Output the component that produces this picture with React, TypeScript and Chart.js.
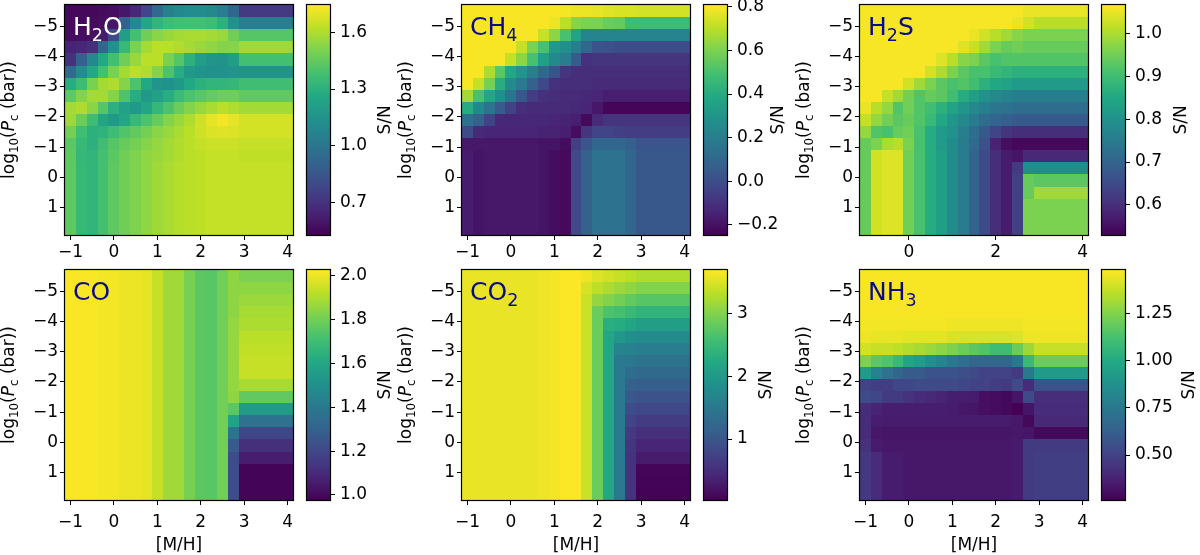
import React, { useEffect, useRef } from 'react';
import { Chart, registerables } from 'chart.js';
Chart.register(...registerables);

const FONT = "'DejaVu Sans', sans-serif";
const PAGE_W = 1200;
const PAGE_H = 555;

// ---------- data ----------
const MH = [-1, -0.75, -0.5, -0.25, 0, 0.25, 0.5, 0.75, 1, 1.25, 1.5, 1.75, 2, 2.25, 2.5, 2.75, 3, 3.25, 3.5, 3.75, 4];
const LOG_PC = [-5.5, -5.1, -4.7, -4.3, -3.9, -3.5, -3.1, -2.7, -2.3, -1.9, -1.5, -1.1, -0.7, -0.3, 0.1, 0.5, 0.9, 1.3, 1.7];
const X_TICKS = [-1, 0, 1, 2, 3, 4];
const X_TICKS_H2S = [0, 2, 4];
const Y_TICKS = [-5, -4, -3, -2, -1, 0, 1];

const H2O_SN = [
  [0.55,0.55,0.55,0.56,0.57,0.60,0.66,0.78,0.95,1.06,1.10,1.12,1.12,1.10,1.04,0.93,0.73,0.73,0.73,0.73,0.73],
  [0.55,0.55,0.56,0.57,0.60,0.90,1.10,1.25,1.32,1.36,1.38,1.38,1.38,1.36,1.30,1.14,1.04,1.04,1.04,1.04,1.04],
  [0.56,0.57,0.58,0.62,0.80,1.20,1.38,1.48,1.53,1.56,1.58,1.59,1.59,1.58,1.56,1.48,1.42,1.42,1.42,1.42,1.42],
  [0.64,0.66,0.69,0.93,1.14,1.34,1.50,1.58,1.62,1.62,1.60,1.58,1.56,1.54,1.52,1.52,1.57,1.57,1.57,1.57,1.57],
  [0.70,0.90,1.10,1.26,1.38,1.48,1.56,1.62,1.62,1.50,1.42,1.30,1.20,1.16,1.15,1.20,1.38,1.38,1.38,1.38,1.38],
  [0.95,1.12,1.26,1.38,1.50,1.58,1.62,1.60,1.52,1.40,1.28,1.18,1.15,1.14,1.14,1.16,1.15,1.15,1.15,1.15,1.15],
  [1.28,1.36,1.50,1.58,1.60,1.52,1.40,1.26,1.16,1.14,1.18,1.26,1.30,1.32,1.32,1.33,1.37,1.37,1.37,1.37,1.37],
  [1.44,1.52,1.58,1.58,1.52,1.40,1.28,1.18,1.22,1.28,1.35,1.40,1.43,1.46,1.48,1.48,1.45,1.45,1.45,1.45,1.45],
  [1.58,1.60,1.53,1.42,1.30,1.22,1.18,1.24,1.33,1.40,1.47,1.52,1.56,1.59,1.62,1.60,1.58,1.58,1.58,1.58,1.58],
  [1.57,1.47,1.36,1.24,1.18,1.25,1.34,1.40,1.46,1.52,1.56,1.60,1.66,1.70,1.73,1.70,1.67,1.67,1.67,1.67,1.67],
  [1.49,1.37,1.30,1.31,1.36,1.41,1.45,1.49,1.53,1.56,1.59,1.62,1.66,1.68,1.69,1.68,1.67,1.67,1.67,1.67,1.67],
  [1.43,1.34,1.30,1.37,1.42,1.46,1.49,1.52,1.55,1.58,1.60,1.62,1.64,1.65,1.65,1.65,1.64,1.64,1.64,1.64,1.64],
  [1.44,1.33,1.32,1.38,1.43,1.48,1.51,1.54,1.56,1.58,1.60,1.62,1.63,1.64,1.64,1.64,1.63,1.63,1.63,1.63,1.63],
  [1.44,1.34,1.32,1.38,1.44,1.48,1.51,1.54,1.57,1.59,1.61,1.62,1.63,1.64,1.64,1.64,1.64,1.64,1.64,1.64,1.64],
  [1.44,1.34,1.32,1.38,1.44,1.48,1.51,1.54,1.57,1.59,1.61,1.62,1.63,1.64,1.64,1.64,1.64,1.64,1.64,1.64,1.64],
  [1.44,1.34,1.32,1.38,1.44,1.48,1.51,1.54,1.57,1.59,1.61,1.62,1.63,1.64,1.64,1.64,1.64,1.64,1.64,1.64,1.64],
  [1.44,1.34,1.32,1.38,1.44,1.48,1.51,1.54,1.57,1.59,1.61,1.62,1.63,1.64,1.64,1.64,1.64,1.64,1.64,1.64,1.64],
  [1.44,1.34,1.32,1.38,1.44,1.48,1.51,1.54,1.57,1.59,1.61,1.62,1.63,1.64,1.64,1.64,1.64,1.64,1.64,1.64,1.64],
  [1.44,1.34,1.32,1.38,1.44,1.48,1.51,1.54,1.57,1.59,1.61,1.62,1.63,1.64,1.64,1.64,1.64,1.64,1.64,1.64,1.64],
];

const CH4_SN = [
  [0.80,0.80,0.80,0.80,0.80,0.80,0.80,0.80,0.80,0.79,0.78,0.78,0.77,0.76,0.75,0.75,0.74,0.74,0.74,0.74,0.74],
  [0.80,0.80,0.80,0.80,0.80,0.80,0.80,0.80,0.78,0.70,0.62,0.60,0.60,0.57,0.56,0.48,0.48,0.48,0.48,0.48,0.48],
  [0.80,0.80,0.80,0.80,0.80,0.80,0.80,0.72,0.63,0.50,0.36,0.23,0.23,0.23,0.23,0.23,0.23,0.23,0.23,0.23,0.23],
  [0.80,0.80,0.80,0.80,0.80,0.72,0.60,0.50,0.32,0.28,0.20,0.10,0.02,0.01,0.00,0.00,0.00,0.00,0.00,0.00,0.00],
  [0.80,0.80,0.80,0.80,0.72,0.63,0.50,0.35,0.25,0.20,0.05,-0.10,-0.09,-0.09,-0.09,-0.09,-0.09,-0.09,-0.09,-0.09,-0.09],
  [0.80,0.80,0.68,0.54,0.38,0.30,0.20,0.10,0.02,-0.09,-0.11,-0.11,-0.11,-0.11,-0.11,-0.11,-0.11,-0.11,-0.11,-0.11,-0.11],
  [0.80,0.72,0.59,0.41,0.26,0.18,0.08,-0.02,-0.10,-0.11,-0.11,-0.11,-0.12,-0.12,-0.12,-0.12,-0.12,-0.12,-0.12,-0.12,-0.12],
  [0.66,0.50,0.38,0.28,0.16,0.04,-0.06,-0.10,-0.11,-0.12,-0.12,-0.13,-0.14,-0.16,-0.16,-0.16,-0.16,-0.16,-0.16,-0.16,-0.16],
  [0.40,0.25,0.16,0.05,-0.04,-0.11,-0.12,-0.12,-0.12,-0.12,-0.13,-0.14,-0.18,-0.23,-0.23,-0.23,-0.23,-0.23,-0.23,-0.23,-0.23],
  [0.14,0.08,-0.04,-0.13,-0.13,-0.13,-0.13,-0.13,-0.14,-0.15,-0.16,-0.22,-0.12,-0.09,-0.09,-0.09,-0.09,-0.09,-0.09,-0.09,-0.09],
  [-0.01,-0.12,-0.14,-0.14,-0.14,-0.14,-0.14,-0.15,-0.15,-0.16,-0.21,-0.09,-0.03,-0.03,-0.05,-0.06,-0.06,-0.06,-0.06,-0.06,-0.06],
  [-0.18,-0.18,-0.18,-0.18,-0.18,-0.18,-0.18,-0.19,-0.19,-0.21,-0.05,0.03,0.10,0.10,0.10,0.07,0.03,0.03,0.03,0.03,0.03],
  [-0.17,-0.19,-0.18,-0.18,-0.18,-0.18,-0.18,-0.19,-0.21,-0.22,-0.01,0.08,0.15,0.15,0.15,0.10,0.04,0.04,0.04,0.04,0.04],
  [-0.17,-0.19,-0.18,-0.18,-0.18,-0.18,-0.18,-0.19,-0.21,-0.22,-0.01,0.08,0.15,0.15,0.15,0.10,0.04,0.04,0.04,0.04,0.04],
  [-0.17,-0.19,-0.18,-0.18,-0.18,-0.18,-0.18,-0.19,-0.21,-0.22,-0.01,0.08,0.15,0.15,0.15,0.10,0.04,0.04,0.04,0.04,0.04],
  [-0.17,-0.19,-0.18,-0.18,-0.18,-0.18,-0.18,-0.19,-0.21,-0.22,-0.01,0.08,0.15,0.15,0.15,0.10,0.04,0.04,0.04,0.04,0.04],
  [-0.17,-0.19,-0.18,-0.18,-0.18,-0.18,-0.18,-0.19,-0.21,-0.22,-0.01,0.08,0.15,0.15,0.15,0.10,0.04,0.04,0.04,0.04,0.04],
  [-0.17,-0.19,-0.18,-0.18,-0.18,-0.18,-0.18,-0.19,-0.21,-0.22,-0.01,0.08,0.15,0.15,0.15,0.10,0.04,0.04,0.04,0.04,0.04],
  [-0.17,-0.19,-0.18,-0.18,-0.18,-0.18,-0.18,-0.19,-0.21,-0.22,-0.01,0.08,0.15,0.15,0.15,0.10,0.04,0.04,0.04,0.04,0.04],
];

const H2S_SN = [
  [1.06,1.06,1.06,1.06,1.06,1.06,1.06,1.06,1.06,1.06,1.06,1.06,1.06,1.06,1.06,1.05,1.05,1.05,1.05,1.05,1.05],
  [1.06,1.06,1.06,1.06,1.06,1.06,1.06,1.06,1.06,1.06,1.06,1.06,1.06,1.06,1.05,1.03,1.01,1.01,1.01,1.01,1.01],
  [1.06,1.06,1.06,1.06,1.06,1.06,1.06,1.06,1.06,1.06,1.05,1.03,1.01,0.99,0.97,0.96,0.96,0.96,0.96,0.96,0.96],
  [1.06,1.06,1.06,1.06,1.06,1.06,1.06,1.06,1.06,1.04,1.02,0.99,0.96,0.94,0.95,0.94,0.94,0.94,0.94,0.94,0.94],
  [1.06,1.06,1.06,1.06,1.06,1.06,1.06,1.04,1.01,0.97,0.96,0.93,0.91,0.92,0.92,0.92,0.92,0.92,0.92,0.92,0.92],
  [1.06,1.06,1.06,1.06,1.06,1.06,1.03,1.00,0.96,0.93,0.91,0.91,0.89,0.88,0.87,0.87,0.87,0.87,0.87,0.87,0.87],
  [1.06,1.06,1.06,1.06,1.03,0.99,0.96,0.93,0.91,0.92,0.90,0.87,0.85,0.84,0.82,0.82,0.82,0.82,0.82,0.82,0.82],
  [1.06,1.06,1.02,0.99,0.95,0.92,0.94,0.93,0.90,0.86,0.83,0.80,0.78,0.77,0.76,0.76,0.76,0.76,0.76,0.76,0.76],
  [1.05,1.01,0.98,0.92,0.95,0.92,0.90,0.87,0.84,0.81,0.78,0.76,0.74,0.73,0.72,0.72,0.72,0.72,0.72,0.72,0.72],
  [1.02,0.98,0.95,0.93,0.94,0.92,0.89,0.85,0.81,0.78,0.75,0.72,0.70,0.69,0.68,0.68,0.68,0.68,0.68,0.68,0.68],
  [0.98,0.92,0.91,0.94,0.95,0.91,0.86,0.82,0.80,0.76,0.72,0.68,0.64,0.61,0.60,0.60,0.60,0.60,0.60,0.60,0.60],
  [0.94,0.96,1.00,1.01,0.96,0.91,0.86,0.82,0.79,0.75,0.71,0.66,0.58,0.55,0.54,0.54,0.54,0.54,0.54,0.54,0.54],
  [0.94,1.03,1.04,1.04,0.95,0.91,0.86,0.83,0.79,0.75,0.70,0.65,0.60,0.57,0.56,0.59,0.59,0.59,0.59,0.59,0.59],
  [0.94,1.03,1.04,1.04,0.95,0.91,0.86,0.83,0.79,0.75,0.70,0.65,0.60,0.57,0.62,0.79,0.79,0.79,0.79,0.79,0.79],
  [0.94,1.03,1.04,1.04,0.95,0.91,0.86,0.83,0.79,0.75,0.70,0.65,0.60,0.57,0.63,0.94,0.93,0.93,0.93,0.93,0.93],
  [0.94,1.03,1.04,1.04,0.95,0.91,0.86,0.83,0.79,0.75,0.70,0.65,0.60,0.57,0.63,0.94,0.99,0.99,0.99,0.99,0.99],
  [0.94,1.03,1.04,1.04,0.95,0.91,0.86,0.83,0.79,0.75,0.70,0.65,0.60,0.57,0.63,0.96,0.96,0.96,0.96,0.96,0.96],
  [0.94,1.03,1.04,1.04,0.95,0.91,0.86,0.83,0.79,0.75,0.70,0.65,0.60,0.57,0.63,0.96,0.96,0.96,0.96,0.96,0.96],
  [0.94,1.03,1.04,1.04,0.95,0.91,0.86,0.83,0.79,0.75,0.70,0.65,0.60,0.57,0.63,0.96,0.96,0.96,0.96,0.96,0.96],
];

const CO_SN = [
  [2.02,2.02,2.02,2.01,2.01,2.00,2.00,1.99,1.94,1.88,1.88,1.81,1.76,1.75,1.80,1.85,1.82,1.82,1.82,1.82,1.82],
  [2.02,2.02,2.02,2.01,2.01,2.00,2.00,1.99,1.94,1.88,1.88,1.81,1.76,1.75,1.80,1.85,1.85,1.85,1.85,1.85,1.85],
  [2.02,2.02,2.02,2.01,2.01,2.00,2.00,1.99,1.94,1.88,1.88,1.81,1.76,1.75,1.80,1.85,1.87,1.87,1.87,1.87,1.87],
  [2.02,2.02,2.02,2.01,2.01,2.00,2.00,1.99,1.94,1.88,1.88,1.81,1.76,1.75,1.80,1.85,1.89,1.89,1.89,1.89,1.89],
  [2.02,2.02,2.02,2.01,2.01,2.00,2.00,1.99,1.94,1.88,1.88,1.81,1.76,1.75,1.80,1.86,1.90,1.90,1.90,1.90,1.90],
  [2.02,2.02,2.02,2.01,2.01,2.00,2.00,1.99,1.94,1.88,1.88,1.81,1.76,1.75,1.80,1.86,1.92,1.92,1.92,1.92,1.92],
  [2.02,2.02,2.02,2.01,2.01,2.00,2.00,1.99,1.94,1.88,1.88,1.81,1.76,1.75,1.80,1.86,1.93,1.93,1.93,1.93,1.93],
  [2.02,2.02,2.02,2.01,2.01,2.00,2.00,1.99,1.94,1.88,1.88,1.81,1.76,1.75,1.80,1.86,1.94,1.94,1.94,1.94,1.94],
  [2.02,2.02,2.02,2.01,2.01,2.00,2.00,1.99,1.94,1.88,1.88,1.81,1.76,1.75,1.80,1.86,1.94,1.94,1.94,1.94,1.94],
  [2.02,2.02,2.02,2.01,2.01,2.00,2.00,1.99,1.94,1.88,1.88,1.81,1.76,1.75,1.80,1.86,1.89,1.89,1.89,1.89,1.89],
  [2.02,2.02,2.02,2.01,2.01,2.00,2.00,1.99,1.94,1.88,1.88,1.81,1.76,1.75,1.80,1.85,1.77,1.77,1.77,1.77,1.77],
  [2.02,2.02,2.02,2.01,2.01,2.00,2.00,1.99,1.94,1.88,1.88,1.81,1.76,1.75,1.80,1.76,1.55,1.55,1.55,1.55,1.55],
  [2.02,2.02,2.02,2.01,2.01,2.00,2.00,1.99,1.94,1.88,1.88,1.81,1.76,1.75,1.80,1.58,1.37,1.37,1.37,1.37,1.37],
  [2.02,2.02,2.02,2.01,2.01,2.00,2.00,1.99,1.94,1.88,1.88,1.81,1.76,1.75,1.80,1.38,1.20,1.20,1.20,1.20,1.20],
  [2.02,2.02,2.02,2.01,2.01,2.00,2.00,1.99,1.94,1.88,1.88,1.81,1.76,1.75,1.80,1.27,1.12,1.12,1.12,1.12,1.12],
  [2.02,2.02,2.02,2.01,2.01,2.00,2.00,1.99,1.94,1.88,1.88,1.81,1.76,1.75,1.80,1.22,1.06,1.06,1.06,1.06,1.06],
  [2.02,2.02,2.02,2.01,2.01,2.00,2.00,1.99,1.94,1.88,1.88,1.81,1.76,1.75,1.80,1.22,0.99,0.99,0.99,0.99,0.99],
  [2.02,2.02,2.02,2.01,2.01,2.00,2.00,1.99,1.94,1.88,1.88,1.81,1.76,1.75,1.80,1.22,0.99,0.99,0.99,0.99,0.99],
  [2.02,2.02,2.02,2.01,2.01,2.00,2.00,1.99,1.94,1.88,1.88,1.81,1.76,1.75,1.80,1.22,0.99,0.99,0.99,0.99,0.99],
];

const CO2_SN = [
  [3.58,3.58,3.58,3.58,3.58,3.58,3.58,3.60,3.64,3.68,3.68,3.62,3.50,3.44,3.38,3.32,3.25,3.25,3.25,3.25,3.25],
  [3.58,3.58,3.58,3.58,3.58,3.58,3.58,3.60,3.64,3.68,3.68,3.48,3.34,3.24,3.15,3.08,3.00,3.00,3.00,3.00,3.00],
  [3.58,3.58,3.58,3.58,3.58,3.58,3.58,3.60,3.64,3.68,3.68,3.40,3.10,3.00,2.90,2.80,2.72,2.72,2.72,2.72,2.72],
  [3.58,3.58,3.58,3.58,3.58,3.58,3.58,3.60,3.64,3.68,3.68,3.40,2.85,2.65,2.60,2.48,2.40,2.40,2.40,2.40,2.40],
  [3.58,3.58,3.58,3.58,3.58,3.58,3.58,3.60,3.64,3.68,3.68,3.40,2.85,2.32,2.28,2.16,2.08,2.08,2.08,2.08,2.08],
  [3.58,3.58,3.58,3.58,3.58,3.58,3.58,3.60,3.64,3.68,3.68,3.40,2.85,2.20,1.96,1.86,1.78,1.78,1.78,1.78,1.78],
  [3.58,3.58,3.58,3.58,3.58,3.58,3.58,3.60,3.64,3.68,3.68,3.40,2.85,2.20,1.68,1.66,1.58,1.58,1.58,1.58,1.58],
  [3.58,3.58,3.58,3.58,3.58,3.58,3.58,3.60,3.64,3.68,3.68,3.40,2.85,2.20,1.52,1.48,1.42,1.42,1.42,1.42,1.42],
  [3.58,3.58,3.58,3.58,3.58,3.58,3.58,3.60,3.64,3.68,3.68,3.40,2.85,2.20,1.52,1.32,1.26,1.26,1.26,1.26,1.26],
  [3.58,3.58,3.58,3.58,3.58,3.58,3.58,3.60,3.64,3.68,3.68,3.40,2.85,2.20,1.52,1.16,1.11,1.11,1.11,1.11,1.11],
  [3.58,3.58,3.58,3.58,3.58,3.58,3.58,3.60,3.64,3.68,3.68,3.40,2.85,2.20,1.52,1.02,0.96,0.96,0.96,0.96,0.96],
  [3.58,3.58,3.58,3.58,3.58,3.58,3.58,3.60,3.64,3.68,3.68,3.40,2.85,2.20,1.52,0.88,0.82,0.82,0.82,0.82,0.82],
  [3.58,3.58,3.58,3.58,3.58,3.58,3.58,3.60,3.64,3.68,3.68,3.40,2.85,2.20,1.52,0.76,0.67,0.67,0.67,0.67,0.67],
  [3.58,3.58,3.58,3.58,3.58,3.58,3.58,3.60,3.64,3.68,3.68,3.40,2.85,2.20,1.52,0.64,0.52,0.52,0.52,0.52,0.52],
  [3.58,3.58,3.58,3.58,3.58,3.58,3.58,3.60,3.64,3.68,3.68,3.40,2.85,2.20,1.52,0.58,0.40,0.40,0.40,0.40,0.40],
  [3.58,3.58,3.58,3.58,3.58,3.58,3.58,3.60,3.64,3.68,3.68,3.40,2.85,2.20,1.52,0.56,0.30,0.30,0.30,0.30,0.30],
  [3.58,3.58,3.58,3.58,3.58,3.58,3.58,3.60,3.64,3.68,3.68,3.40,2.85,2.20,1.52,0.56,0.08,0.08,0.08,0.08,0.08],
  [3.58,3.58,3.58,3.58,3.58,3.58,3.58,3.60,3.64,3.68,3.68,3.40,2.85,2.20,1.52,0.56,0.06,0.06,0.06,0.06,0.06],
  [3.58,3.58,3.58,3.58,3.58,3.58,3.58,3.60,3.64,3.68,3.68,3.40,2.85,2.20,1.52,0.56,0.05,0.05,0.05,0.05,0.05],
];

const NH3_SN = [
  [1.47,1.47,1.47,1.47,1.47,1.47,1.47,1.47,1.47,1.47,1.47,1.47,1.47,1.47,1.47,1.47,1.47,1.47,1.47,1.47,1.47],
  [1.47,1.47,1.47,1.47,1.47,1.47,1.47,1.47,1.47,1.47,1.47,1.47,1.47,1.47,1.47,1.47,1.47,1.47,1.47,1.47,1.47],
  [1.47,1.47,1.47,1.47,1.47,1.47,1.47,1.47,1.47,1.47,1.47,1.47,1.47,1.47,1.47,1.47,1.47,1.47,1.47,1.47,1.47],
  [1.47,1.47,1.47,1.47,1.47,1.47,1.47,1.47,1.47,1.47,1.47,1.47,1.47,1.47,1.47,1.47,1.47,1.47,1.47,1.47,1.47],
  [1.46,1.46,1.46,1.46,1.46,1.46,1.46,1.46,1.45,1.45,1.45,1.45,1.45,1.45,1.45,1.46,1.46,1.46,1.46,1.46,1.46],
  [1.45,1.44,1.44,1.44,1.43,1.43,1.43,1.43,1.41,1.41,1.41,1.41,1.41,1.41,1.42,1.45,1.45,1.45,1.45,1.45,1.45],
  [1.40,1.38,1.38,1.36,1.34,1.32,1.30,1.27,1.24,1.20,1.17,1.14,1.10,1.10,1.20,1.30,1.38,1.38,1.38,1.38,1.38],
  [1.24,1.17,1.14,1.08,0.97,0.93,0.87,0.81,0.75,0.70,0.66,0.66,0.66,0.66,0.75,1.08,1.20,1.20,1.20,1.20,1.20],
  [0.92,0.80,0.72,0.66,0.61,0.61,0.57,0.57,0.57,0.55,0.53,0.50,0.50,0.50,0.47,0.75,0.92,0.92,0.92,0.92,0.92],
  [0.50,0.48,0.48,0.52,0.52,0.53,0.53,0.53,0.53,0.52,0.50,0.50,0.48,0.47,0.53,0.41,0.57,0.57,0.57,0.57,0.57],
  [0.53,0.52,0.47,0.47,0.44,0.41,0.40,0.38,0.36,0.36,0.35,0.31,0.30,0.29,0.33,0.53,0.42,0.42,0.42,0.42,0.42],
  [0.41,0.38,0.36,0.36,0.36,0.36,0.36,0.36,0.35,0.34,0.33,0.31,0.30,0.29,0.26,0.33,0.41,0.41,0.41,0.41,0.41],
  [0.41,0.36,0.35,0.35,0.35,0.35,0.35,0.35,0.35,0.35,0.35,0.35,0.35,0.35,0.34,0.29,0.40,0.40,0.40,0.40,0.40],
  [0.41,0.34,0.33,0.33,0.33,0.33,0.33,0.33,0.33,0.33,0.33,0.33,0.33,0.33,0.34,0.33,0.29,0.29,0.29,0.29,0.29],
  [0.43,0.35,0.34,0.34,0.34,0.34,0.34,0.34,0.34,0.34,0.34,0.34,0.34,0.34,0.35,0.47,0.47,0.47,0.47,0.47,0.47],
  [0.46,0.41,0.35,0.35,0.34,0.34,0.34,0.34,0.34,0.34,0.34,0.34,0.34,0.34,0.35,0.47,0.48,0.48,0.48,0.48,0.48],
  [0.46,0.41,0.35,0.35,0.34,0.34,0.34,0.34,0.34,0.34,0.34,0.34,0.34,0.34,0.35,0.47,0.48,0.48,0.48,0.48,0.48],
  [0.46,0.41,0.35,0.35,0.34,0.34,0.34,0.34,0.34,0.34,0.34,0.34,0.34,0.34,0.35,0.47,0.48,0.48,0.48,0.48,0.48],
  [0.46,0.41,0.35,0.35,0.34,0.34,0.34,0.34,0.34,0.34,0.34,0.34,0.34,0.34,0.35,0.47,0.48,0.48,0.48,0.48,0.48],
];

// colour limits and colour-bar ticks
const H2O_RANGE = [0.527, 1.745];
const CH4_RANGE = [-0.246, 0.808];
const H2S_RANGE = [0.53, 1.066];
const CO_RANGE = [0.977, 2.027];
const CO2_RANGE = [0.03, 3.69];
const NH3_RANGE = [0.262, 1.479];

const H2O_CB = [0.7, 1.0, 1.3, 1.6];
const H2O_CB_LABELS = ['0.7', '1.0', '1.3', '1.6'];
const CH4_CB = [-0.2, 0, 0.2, 0.4, 0.6, 0.8];
const CH4_CB_LABELS = ['\u22120.2', '0.0', '0.2', '0.4', '0.6', '0.8'];
const H2S_CB = [0.6, 0.7, 0.8, 0.9, 1.0];
const H2S_CB_LABELS = ['0.6', '0.7', '0.8', '0.9', '1.0'];
const CO_CB = [1.0, 1.2, 1.4, 1.6, 1.8, 2.0];
const CO_CB_LABELS = ['1.0', '1.2', '1.4', '1.6', '1.8', '2.0'];
const CO2_CB = [1, 2, 3];
const CO2_CB_LABELS = ['1', '2', '3'];
const NH3_CB = [0.5, 0.75, 1.0, 1.25];
const NH3_CB_LABELS = ['0.50', '0.75', '1.00', '1.25'];

// ---------- styling / layout ----------
type Part = { t: string; sub?: boolean; italic?: boolean };

const TICK_SIZE = 17;
const TITLE_SIZE = 25;
const PANEL_W = 228;
const PANEL_H = 230;
const CB_W = 23;
const Y_AXIS_W = 50;
const X_AXIS_H = 30;
const CB_AXIS_W = 60;

const VIRIDIS = ['#440154', '#482576', '#414487', '#35608d', '#2a788e', '#21908c', '#22a884', '#43bf71', '#7ad151', '#bbdf27', '#fde725'];
const VRGB = VIRIDIS.map((h) => [parseInt(h.slice(1, 3), 16), parseInt(h.slice(3, 5), 16), parseInt(h.slice(5, 7), 16)]);
function viridis(t: number) {
  const c = Math.max(0, Math.min(1, t));
  const p = c * (VRGB.length - 1);
  const i = Math.min(VRGB.length - 2, Math.floor(p));
  const f = p - i;
  const a = VRGB[i];
  const b = VRGB[i + 1];
  return `rgb(${Math.round(a[0] + (b[0] - a[0]) * f)},${Math.round(a[1] + (b[1] - a[1]) * f)},${Math.round(a[2] + (b[2] - a[2]) * f)})`;
}

const YLABEL: Part[] = [{ t: 'log' }, { t: '10', sub: true }, { t: '(' }, { t: 'P', italic: true }, { t: 'c', sub: true }, { t: ' (bar))' }];
const TITLE_BLUE = '#0a0a8a';

const PANELS = [
  { key: 'h2o', title: [{ t: 'H' }, { t: '2', sub: true }, { t: 'O' }] as Part[], titleColor: '#ffffff', values: H2O_SN, range: H2O_RANGE, cb: H2O_CB, cbLabels: H2O_CB_LABELS, L: 65, T: 5, cbL: 307, xTicks: X_TICKS, xLabel: false, xPad: 2, snOff: 55 },
  { key: 'ch4', title: [{ t: 'CH' }, { t: '4', sub: true }] as Part[], titleColor: TITLE_BLUE, values: CH4_SN, range: CH4_RANGE, cb: CH4_CB, cbLabels: CH4_CB_LABELS, L: 462, T: 5, cbL: 704, xTicks: X_TICKS, xLabel: false, xPad: 2, snOff: 51 },
  { key: 'h2s', title: [{ t: 'H' }, { t: '2', sub: true }, { t: 'S' }] as Part[], titleColor: TITLE_BLUE, values: H2S_SN, range: H2S_RANGE, cb: H2S_CB, cbLabels: H2S_CB_LABELS, L: 860, T: 5, cbL: 1102, xTicks: X_TICKS_H2S, xLabel: false, xPad: 2, snOff: 56 },
  { key: 'co', title: [{ t: 'CO' }] as Part[], titleColor: TITLE_BLUE, values: CO_SN, range: CO_RANGE, cb: CO_CB, cbLabels: CO_CB_LABELS, L: 65, T: 270, cbL: 307, xTicks: X_TICKS, xLabel: true, xPad: 7, snOff: 55 },
  { key: 'co2', title: [{ t: 'CO' }, { t: '2', sub: true }] as Part[], titleColor: TITLE_BLUE, values: CO2_SN, range: CO2_RANGE, cb: CO2_CB, cbLabels: CO2_CB_LABELS, L: 462, T: 270, cbL: 704, xTicks: X_TICKS, xLabel: true, xPad: 7, snOff: 39 },
  { key: 'nh3', title: [{ t: 'NH' }, { t: '3', sub: true }] as Part[], titleColor: TITLE_BLUE, values: NH3_SN, range: NH3_RANGE, cb: NH3_CB, cbLabels: NH3_CB_LABELS, L: 860, T: 270, cbL: 1102, xTicks: X_TICKS, xLabel: true, xPad: 7, snOff: 64 },
];
type Panel = (typeof PANELS)[number];

const fmt = (v: number) => (v < 0 ? '\u2212' + Math.abs(v) : String(v));

function drawParts(ctx: CanvasRenderingContext2D, parts: Part[], size: number, x: number, y: number, center: boolean) {
  const subSize = size * 0.7;
  const fontOf = (p: Part) => `${p.italic ? 'italic ' : ''}${p.sub ? subSize : size}px ${FONT}`;
  let total = 0;
  const widths = parts.map((p) => {
    ctx.font = fontOf(p);
    const w = ctx.measureText(p.t).width;
    total += w;
    return w;
  });
  let cx = center ? x - total / 2 : x;
  ctx.textAlign = 'left';
  ctx.textBaseline = 'alphabetic';
  parts.forEach((p, i) => {
    ctx.font = fontOf(p);
    ctx.fillText(p.t, cx, y + (p.sub ? size * 0.22 : 0));
    cx += widths[i];
  });
}

function zeroPad(s: any) {
  s.paddingTop = 0;
  s.paddingBottom = 0;
  s.paddingLeft = 0;
  s.paddingRight = 0;
}

const tickFont = { family: FONT, size: TICK_SIZE };

function Heatmap({ p }: { p: Panel }) {
  const ref = useRef<HTMLCanvasElement>(null);
  useEffect(() => {
    const hx = (MH[1] - MH[0]) / 2;
    const hy = (LOG_PC[1] - LOG_PC[0]) / 2;
    const plugin = {
      id: 'heat_' + p.key,
      beforeDatasetsDraw(chart: any) {
        const { ctx } = chart;
        const xs = chart.scales.x;
        const ys = chart.scales.y;
        const [vmin, vmax] = p.range;
        ctx.save();
        p.values.forEach((row, i) => {
          row.forEach((v, j) => {
            const x0 = Math.round(xs.getPixelForValue(MH[j] - hx));
            const x1 = Math.round(xs.getPixelForValue(MH[j] + hx));
            const ya = Math.round(ys.getPixelForValue(LOG_PC[i] - hy));
            const yb = Math.round(ys.getPixelForValue(LOG_PC[i] + hy));
            ctx.fillStyle = viridis((v - vmin) / (vmax - vmin));
            ctx.fillRect(x0, Math.min(ya, yb), x1 - x0, Math.abs(yb - ya));
          });
        });
        ctx.restore();
      },
      afterDraw(chart: any) {
        const { ctx, chartArea: a } = chart;
        ctx.save();
        ctx.strokeStyle = '#000';
        ctx.lineWidth = 1.2;
        ctx.strokeRect(a.left - 0.5, a.top - 0.5, a.right - a.left + 1, a.bottom - a.top + 1);
        ctx.fillStyle = p.titleColor;
        drawParts(ctx, p.title, TITLE_SIZE, a.left + 8, a.top + 30, false);
        ctx.fillStyle = '#000';
        ctx.translate(a.left - 55.5, (a.top + a.bottom) / 2);
        ctx.rotate(-Math.PI / 2);
        drawParts(ctx, YLABEL, TICK_SIZE, 0, TICK_SIZE * 0.26, true);
        ctx.restore();
        if (p.xLabel) {
          ctx.save();
          ctx.fillStyle = '#000';
          drawParts(ctx, [{ t: '[M/H]' }], TICK_SIZE, (a.left + a.right) / 2, 550, true);
          ctx.restore();
        }
      },
    };
    const chart = new Chart(ref.current as HTMLCanvasElement, {
      type: 'scatter',
      data: { datasets: [{ data: [], pointRadius: 0 }] },
      options: {
        animation: false,
        responsive: false,
        devicePixelRatio: 1,
        events: [],
        layout: {
          padding: {
            left: p.L - Y_AXIS_W,
            top: p.T,
            right: PAGE_W - p.L - PANEL_W,
            bottom: PAGE_H - p.T - PANEL_H - X_AXIS_H,
          },
        },
        plugins: { legend: { display: false }, tooltip: { enabled: false }, title: { display: false } },
        scales: {
          x: {
            type: 'linear',
            min: MH[0] - hx,
            max: MH[MH.length - 1] + hx,
            afterBuildTicks: (s: any) => { s.ticks = p.xTicks.map((v) => ({ value: v })); },
            afterFit: (s: any) => { s.height = X_AXIS_H; zeroPad(s); },
            grid: { display: true, drawOnChartArea: false, drawTicks: true, tickLength: 5, color: '#000', lineWidth: 1 },
            border: { display: false },
            ticks: { font: tickFont, color: '#000', padding: p.xPad, maxRotation: 0, autoSkip: false, callback: (v: any) => fmt(Number(v)) },
          },
          y: {
            type: 'linear',
            reverse: true,
            min: LOG_PC[0] - hy,
            max: LOG_PC[LOG_PC.length - 1] + hy,
            afterBuildTicks: (s: any) => { s.ticks = Y_TICKS.map((v) => ({ value: v })); },
            afterFit: (s: any) => { s.width = Y_AXIS_W; zeroPad(s); },
            grid: { display: true, drawOnChartArea: false, drawTicks: true, tickLength: 5, color: '#000', lineWidth: 1 },
            border: { display: false },
            ticks: { font: tickFont, color: '#000', padding: 2, autoSkip: false, callback: (v: any) => fmt(Number(v)) },
          },
        },
      } as any,
      plugins: [plugin],
    });
    return () => chart.destroy();
  }, []);
  return <canvas ref={ref} width={PAGE_W} height={PAGE_H} style={{ position: 'absolute', left: 0, top: 0, width: PAGE_W, height: PAGE_H }} />;
}

function ColorBar({ p }: { p: Panel }) {
  const ref = useRef<HTMLCanvasElement>(null);
  useEffect(() => {
    const [vmin, vmax] = p.range;
    const plugin = {
      id: 'cb_' + p.key,
      beforeDatasetsDraw(chart: any) {
        const { ctx, chartArea: a } = chart;
        const ys = chart.scales.y;
        const yLo = ys.getPixelForValue(vmin);
        const yHi = ys.getPixelForValue(vmax);
        const grad = ctx.createLinearGradient(0, yLo, 0, yHi);
        const n = 40;
        for (let k = 0; k <= n; k++) grad.addColorStop(k / n, viridis(k / n));
        ctx.save();
        ctx.fillStyle = grad;
        ctx.fillRect(a.left, Math.min(yLo, yHi), a.right - a.left, Math.abs(yHi - yLo));
        ctx.restore();
      },
      afterDraw(chart: any) {
        const { ctx, chartArea: a } = chart;
        ctx.save();
        ctx.strokeStyle = '#000';
        ctx.lineWidth = 1.2;
        ctx.strokeRect(a.left - 0.5, a.top - 0.5, a.right - a.left + 1, a.bottom - a.top + 1);
        ctx.fillStyle = '#000';
        ctx.translate(a.right + p.snOff, (a.top + a.bottom) / 2);
        ctx.rotate(-Math.PI / 2);
        drawParts(ctx, [{ t: 'S/N' }], TICK_SIZE, 0, TICK_SIZE * 0.32, true);
        ctx.restore();
      },
    };
    const chart = new Chart(ref.current as HTMLCanvasElement, {
      type: 'scatter',
      data: { datasets: [{ data: [], pointRadius: 0 }] },
      options: {
        animation: false,
        responsive: false,
        devicePixelRatio: 1,
        events: [],
        layout: {
          padding: {
            left: p.cbL,
            top: p.T,
            right: PAGE_W - p.cbL - CB_W - CB_AXIS_W,
            bottom: PAGE_H - p.T - PANEL_H,
          },
        },
        plugins: { legend: { display: false }, tooltip: { enabled: false }, title: { display: false } },
        scales: {
          x: { type: 'linear', display: false, min: 0, max: 1 },
          y: {
            type: 'linear',
            position: 'right',
            min: vmin,
            max: vmax,
            afterBuildTicks: (s: any) => { s.ticks = p.cb.map((v) => ({ value: v })); },
            afterFit: (s: any) => { s.width = CB_AXIS_W; zeroPad(s); },
            grid: { display: true, drawOnChartArea: false, drawTicks: true, tickLength: 5, color: '#000', lineWidth: 1 },
            border: { display: false },
            ticks: { font: tickFont, color: '#000', padding: 5, autoSkip: false, callback: (_v: any, i: number) => p.cbLabels[i] },
          },
        },
      } as any,
      plugins: [plugin],
    });
    return () => chart.destroy();
  }, []);
  return <canvas ref={ref} width={PAGE_W} height={PAGE_H} style={{ position: 'absolute', left: 0, top: 0, width: PAGE_W, height: PAGE_H }} />;
}

export default function App() {
  return (
    <div style={{ position: 'absolute', left: 0, top: 0, width: PAGE_W, height: PAGE_H, background: '#fff', overflow: 'hidden' }}>
      {PANELS.map((p) => (
        <React.Fragment key={p.key}>
          <Heatmap p={p} />
          <ColorBar p={p} />
        </React.Fragment>
      ))}
    </div>
  );
}
